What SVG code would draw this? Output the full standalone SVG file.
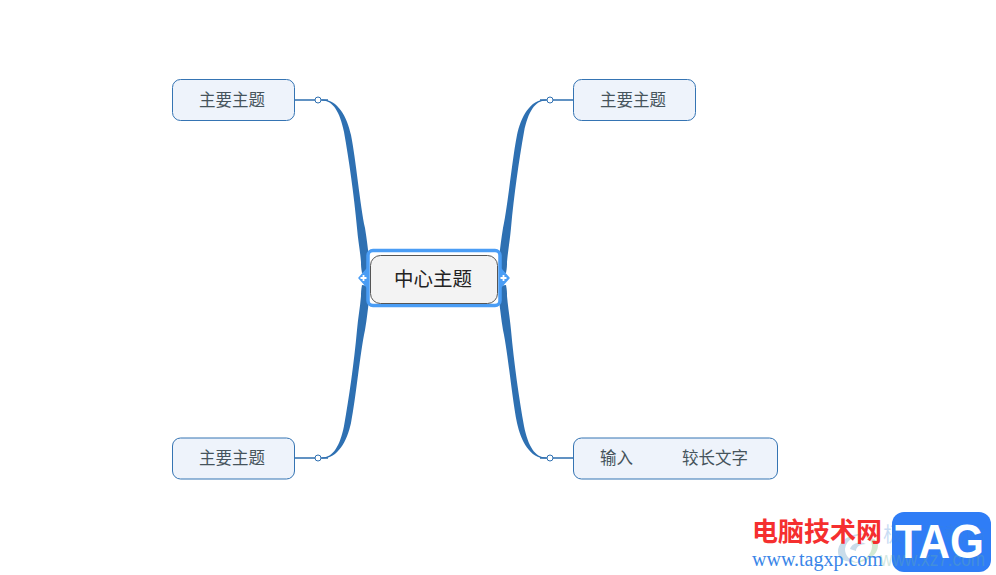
<svg xmlns="http://www.w3.org/2000/svg" width="996" height="575" viewBox="0 0 996 575">
<style>
text{font-family:"Liberation Sans","Noto Sans CJK SC",sans-serif}
.topic rect{fill:#eef3fb;stroke:#3574b3;stroke-width:1}
.topic text{font-size:16.500px;fill:#46545c;text-anchor:middle}
.line{fill:none;stroke:#2e6fb0;stroke-width:1.300}
.branch{fill:#2e70b2}
.dot{fill:#fff;stroke:#2e6fb0;stroke-width:1}
</style>
<defs>
<path id="b" class="branch" d="M322 99.500C338 99.500 347 117 351 135C356 160 360 205 365 228C367 240 368 250 369 258L369 272L362 273C361 268 361 265 361 262C360 250 358 240 357 228C354 195 349 160 344 132C340 112 333 100.500 322 100.500Z"/>
</defs>
<rect width="996" height="575" fill="#fff"/>
<g id="connectors">
<use href="#b"/>
<use href="#b" transform="matrix(1 0 0 -1 0 558)"/>
<use href="#b" transform="matrix(-1 0 0 1 868 0)"/>
<use href="#b" transform="matrix(-1 0 0 -1 868 558)"/>
<path class="line" d="M294 100H328M294 458H328M540 100H574M540 458H574"/>
<circle class="dot" cx="318" cy="100" r="3"/>
<circle class="dot" cx="318" cy="458" r="3"/>
<circle class="dot" cx="550" cy="100" r="3"/>
<circle class="dot" cx="550" cy="458" r="3"/>
</g>
<g id="center">
<path d="M359 278L367 269V287ZM509 278L501 269V287Z" fill="#4a9df5" stroke="#4a9df5" stroke-width="1.500" stroke-linejoin="round"/>
<rect x="368" y="250.500" width="132" height="55" rx="5" fill="#fff" stroke="#4a9df5" stroke-width="3.500"/>
<rect x="370.500" y="255.500" width="127" height="48" rx="10" fill="#f3f3f3" stroke="#555" stroke-width="1"/>
<text x="433" y="286" font-size="19.500" fill="#222" text-anchor="middle">中心主题</text>
<path d="M360.500 278H366.500M363.500 275V281M500.500 278H506.500M503.500 275V281" stroke="#fff" stroke-width="1.800"/>
</g>
<g id="topic-1" class="topic"><rect x="172.500" y="79.500" width="122" height="41" rx="8"/><text x="232" y="105.500">主要主题</text></g>
<g id="topic-2" class="topic"><rect x="573.500" y="79.500" width="122" height="41" rx="8"/><text x="633" y="105.500">主要主题</text></g>
<g id="topic-3" class="topic"><rect x="172.500" y="438" width="122" height="41" rx="8"/><text x="232" y="464">主要主题</text></g>
<g id="topic-4" class="topic"><rect x="573.500" y="438" width="204" height="41" rx="8"/><text x="616.500" y="464">输入</text><text x="715" y="464">较长文字</text></g>
<g id="watermark">
<path d="M838 552C838 540 852 532 868 534C856 534 846 540 845 549C845 556 850 560 856 562C846 562 838 560 838 552Z" fill="#c9dcea"/>
<path d="M878 545C878 556 866 563 852 563C864 561 872 555 872 546C872 541 868 538 864 536C872 537 878 540 878 545Z" fill="#d3ead3"/>
<path d="M850 549C852 543 860 541 866 544C860 544 856 547 856 551Z" fill="#c9dcea"/>
<rect x="892" y="512" width="99" height="60" rx="12" fill="#2f7df6"/>
<text x="883" y="542" font-size="20.500" fill="#3d85d8" opacity=".28">极光下载站</text>
<text x="880" y="566" font-size="20" fill="#6fb5a0" opacity=".3" textLength="105" lengthAdjust="spacingAndGlyphs">www.xz7.com</text>
<text x="752" y="541" font-size="26" font-weight="700" fill="#f52f2f">电脑技术网</text>
<text x="752" y="566" font-size="20" fill="#3a86e8" style="font-family:'Liberation Serif',serif">www.tagxp.com</text>
<text x="895" y="558" font-size="48" font-weight="700" fill="#fff" textLength="89" lengthAdjust="spacingAndGlyphs">TAG</text>
</g>
</svg>
